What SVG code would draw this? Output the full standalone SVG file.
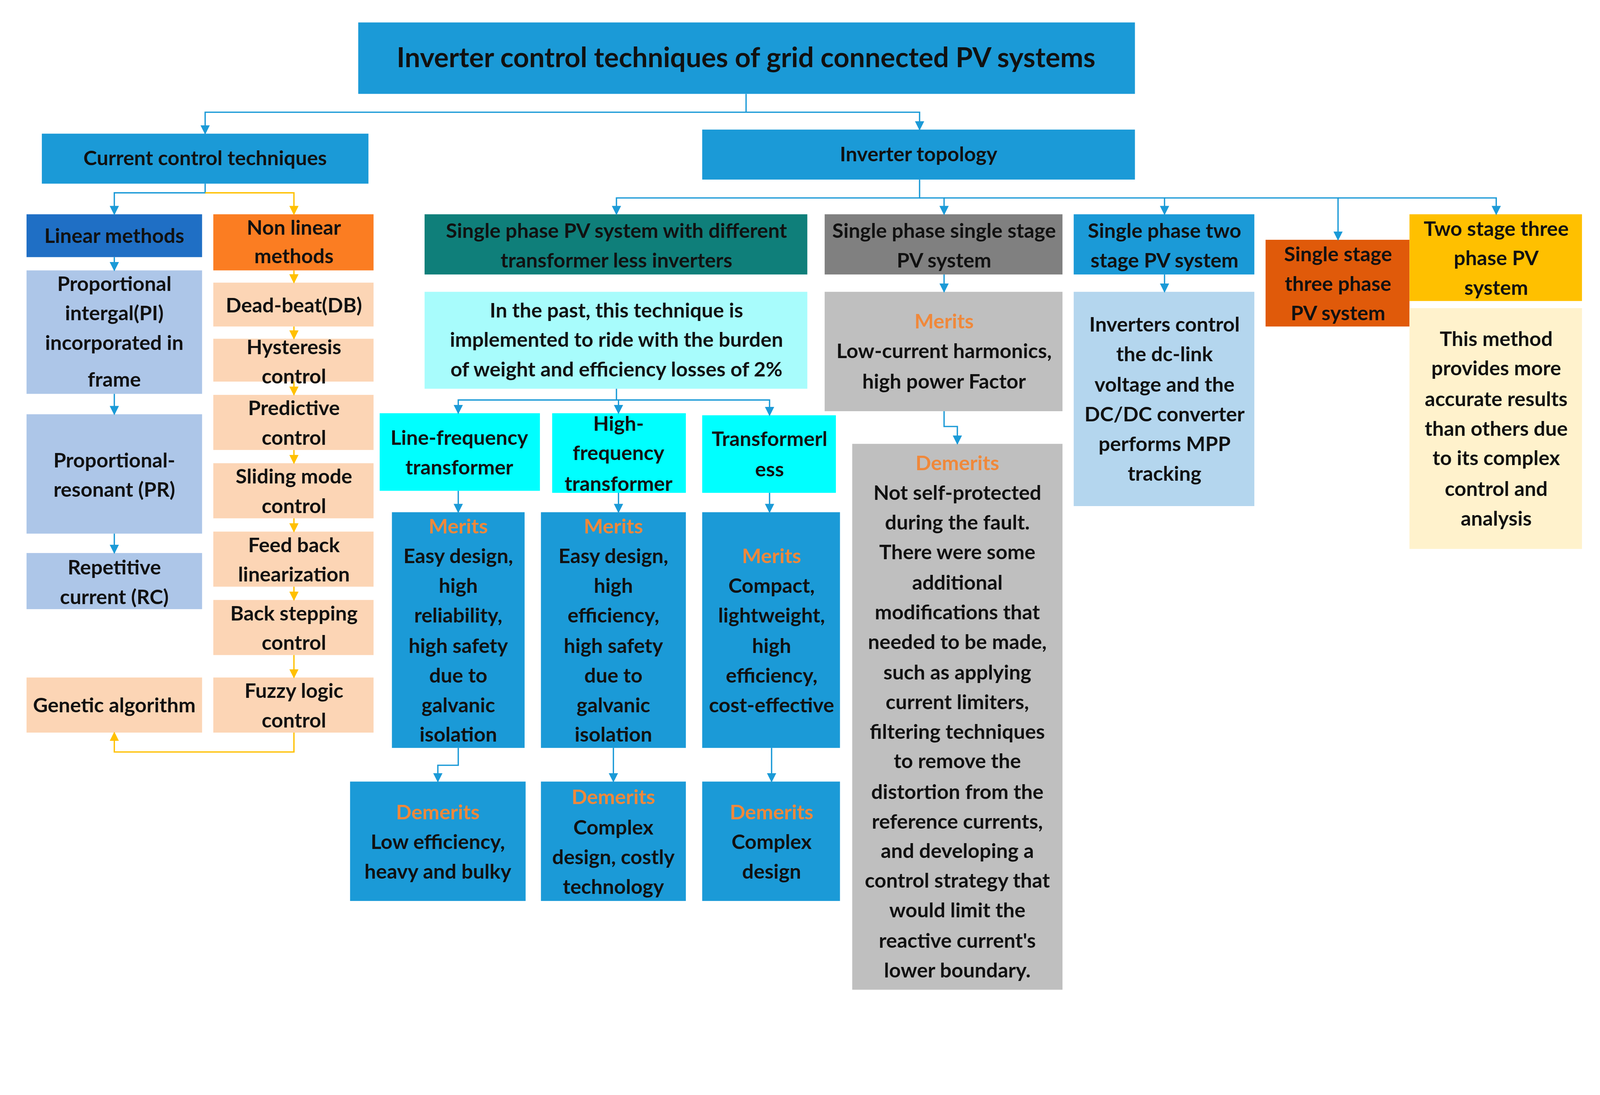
<svg xmlns="http://www.w3.org/2000/svg" width="4448" height="2804" viewBox="0 0 4448 2804">
<style>
text{font-family:Lato,"Liberation Sans",sans-serif;font-weight:bold;font-size:20px;fill:#111;text-anchor:middle}
.b{fill:#1b9ad7}.o{fill:#f0883a}
.c path{fill:none;stroke-width:1.3}
.bl{stroke:#1b9ad7}.yl{stroke:#ffc000}
</style>
<defs>
<marker id="ab" viewBox="0 0 10 10" refX="9" refY="5" markerWidth="7" markerHeight="7" orient="auto"><path d="M0,0L10,5L0,10z" fill="#1b9ad7"/></marker>
<marker id="ay" viewBox="0 0 10 10" refX="9" refY="5" markerWidth="7" markerHeight="7" orient="auto"><path d="M0,0L10,5L0,10z" fill="#ffc000"/></marker>
</defs>
<rect width="4448" height="2804" fill="#fff"/>
<g transform="scale(2.6128)">
<g id="title"><rect x="351" y="22" width="761" height="70" class="b"/><text x="731" y="66" style="font-size:27px">Inverter control techniques of grid connected PV systems</text></g>
<g id="cct"><rect x="41" y="131" width="320" height="49" class="b"/><text x="201" y="162">Current control techniques</text></g>
<g id="topo"><rect x="688" y="127" width="424" height="49" class="b"/><text x="900" y="158">Inverter topology</text></g>
<g id="lin"><rect x="26" y="210" width="172" height="42" fill="#1f6fc5"/><text x="112" y="238">Linear methods</text></g>
<g id="nonlin"><rect x="209" y="210" width="157" height="55" fill="#fb7d22"/><text x="288" y="230">Non linear</text><text x="288" y="258">methods</text></g>
<g id="pi"><rect x="26" y="265" width="172" height="121" fill="#adc6e8"/><text x="112" y="285">Proportional</text><text x="112" y="314">intergal(PI)</text><text x="112" y="343">incorporated in</text><text x="112" y="379">frame</text></g>
<g id="pr"><rect x="26" y="406" width="172" height="117" fill="#adc6e8"/><text x="112" y="458">Proportional-</text><text x="112" y="487">resonant (PR)</text></g>
<g id="rc"><rect x="26" y="542" width="172" height="55" fill="#adc6e8"/><text x="112" y="563">Repetitive</text><text x="112" y="592">current (RC)</text></g>
<g id="ga"><rect x="26" y="664" width="172" height="54" fill="#fcd5b5"/><text x="112" y="698">Genetic algorithm</text></g>
<g id="db"><rect x="209" y="277" width="157" height="43" fill="#fcd5b5"/><text x="288" y="306">Dead-beat(DB)</text></g>
<g id="hy"><rect x="209" y="332" width="157" height="42" fill="#fcd5b5"/><text x="288" y="347">Hysteresis</text><text x="288" y="376">control</text></g>
<g id="pc"><rect x="209" y="387" width="157" height="54" fill="#fcd5b5"/><text x="288" y="407">Predictive</text><text x="288" y="436">control</text></g>
<g id="sm"><rect x="209" y="454" width="157" height="54" fill="#fcd5b5"/><text x="288" y="474">Sliding mode</text><text x="288" y="503">control</text></g>
<g id="fb"><rect x="209" y="521" width="157" height="54" fill="#fcd5b5"/><text x="288" y="541">Feed back</text><text x="288" y="570">linearization</text></g>
<g id="bs"><rect x="209" y="588" width="157" height="54" fill="#fcd5b5"/><text x="288" y="608">Back stepping</text><text x="288" y="637">control</text></g>
<g id="fl"><rect x="209" y="664" width="157" height="54" fill="#fcd5b5"/><text x="288" y="684">Fuzzy logic</text><text x="288" y="713">control</text></g>
<g id="tl"><rect x="416" y="210" width="375" height="59" fill="#0f7f7a"/><text x="604" y="233">Single phase PV system with different</text><text x="604" y="262">transformer less inverters</text></g>
<g id="ss"><rect x="808" y="210" width="233" height="59" fill="#808080"/><text x="925" y="233">Single phase single stage</text><text x="925" y="262">PV system</text></g>
<g id="ts"><rect x="1052" y="210" width="177" height="59" class="b"/><text x="1141" y="233">Single phase two</text><text x="1141" y="262">stage PV system</text></g>
<g id="s3"><rect x="1240" y="235" width="141" height="85" fill="#e05a0a"/><text x="1311" y="256">Single stage</text><text x="1311" y="285">three phase</text><text x="1311" y="314">PV system</text></g>
<g id="t3"><rect x="1381" y="210" width="169" height="85" fill="#ffc000"/><text x="1466" y="231">Two stage three</text><text x="1466" y="260">phase PV</text><text x="1466" y="289">system</text></g>
<g id="past"><rect x="416" y="286" width="375" height="95" fill="#a8fcfc"/><text x="604" y="311">In the past, this technique is</text><text x="604" y="340">implemented  to ride with the burden</text><text x="604" y="369">of weight and efficiency losses of 2%</text></g>
<g id="ssm"><rect x="808" y="286" width="233" height="117" fill="#bfbfbf"/><text x="925" y="322" class="o">Merits</text><text x="925" y="351">Low-current harmonics,</text><text x="925" y="381">high power Factor</text></g>
<g id="ssd"><rect x="835" y="435" width="206" height="535" fill="#bfbfbf"/><text x="938" y="461" class="o">Demerits</text>
<text x="938" y="490">Not self-protected</text><text x="938" y="519">during the fault.</text><text x="938" y="548">There were some</text><text x="938" y="578">additional</text><text x="938" y="607">modifications that</text><text x="938" y="636">needed to be made,</text><text x="938" y="666">such as applying</text><text x="938" y="695">current limiters,</text><text x="938" y="724">filtering techniques</text><text x="938" y="753">to remove the</text><text x="938" y="783">distortion from the</text><text x="938" y="812">reference currents,</text><text x="938" y="841">and developing a</text><text x="938" y="870">control strategy that</text><text x="938" y="899">would limit the</text><text x="938" y="929">reactive current's</text><text x="938" y="958">lower boundary.</text></g>
<g id="tsd"><rect x="1052" y="286" width="177" height="210" fill="#b4d6ee"/><text x="1141" y="325">Inverters control</text><text x="1141" y="354">the dc-link</text><text x="1141" y="384">voltage and the</text><text x="1141" y="413">DC/DC converter</text><text x="1141" y="442">performs MPP</text><text x="1141" y="471">tracking</text></g>
<g id="t3d"><rect x="1381" y="302" width="169" height="236" fill="#fff2cc"/><text x="1466" y="339">This method</text><text x="1466" y="368">provides more</text><text x="1466" y="398">accurate results</text><text x="1466" y="427">than others due</text><text x="1466" y="456">to its complex</text><text x="1466" y="486">control and</text><text x="1466" y="515">analysis</text></g>
<g id="lf"><rect x="372" y="405" width="157" height="76" fill="#00ffff"/><text x="450" y="436">Line-frequency</text><text x="450" y="465">transformer</text></g>
<g id="hf"><rect x="541" y="405" width="131" height="78" fill="#00ffff"/><text x="606" y="422">High-</text><text x="606" y="451">frequency</text><text x="606" y="481">transformer</text></g>
<g id="tfl"><rect x="688" y="407" width="131" height="76" fill="#00ffff"/><text x="754" y="437">Transformerl</text><text x="754" y="467">ess</text></g>
<g id="lfm"><rect x="384" y="502" width="130" height="231" class="b"/><text x="449" y="523" class="o">Merits</text><text x="449" y="552">Easy design,</text><text x="449" y="581">high</text><text x="449" y="610">reliability,</text><text x="449" y="640">high safety</text><text x="449" y="669">due to</text><text x="449" y="698">galvanic</text><text x="449" y="727">isolation</text></g>
<g id="hfm"><rect x="530" y="502" width="142" height="231" class="b"/><text x="601" y="523" class="o">Merits</text><text x="601" y="552">Easy design,</text><text x="601" y="581">high</text><text x="601" y="610">efficiency,</text><text x="601" y="640">high safety</text><text x="601" y="669">due to</text><text x="601" y="698">galvanic</text><text x="601" y="727">isolation</text></g>
<g id="tfm"><rect x="688" y="502" width="135" height="231" class="b"/><text x="756" y="552" class="o">Merits</text><text x="756" y="581">Compact,</text><text x="756" y="610">lightweight,</text><text x="756" y="640">high</text><text x="756" y="669">efficiency,</text><text x="756" y="698">cost-effective</text></g>
<g id="lfd"><rect x="343" y="766" width="172" height="117" class="b"/><text x="429" y="803" class="o">Demerits</text><text x="429" y="832">Low efficiency,</text><text x="429" y="861">heavy and bulky</text></g>
<g id="hfd"><rect x="530" y="766" width="142" height="117" class="b"/><text x="601" y="788" class="o">Demerits</text><text x="601" y="818">Complex</text><text x="601" y="847">design, costly</text><text x="601" y="876">technology</text></g>
<g id="tfd"><rect x="688" y="766" width="135" height="117" class="b"/><text x="756" y="803" class="o">Demerits</text><text x="756" y="832">Complex</text><text x="756" y="861">design</text></g>
<g id="connectors" class="c">
<path class="bl" d="M731,92V110H201V131" marker-end="url(#ab)"/>
<path class="bl" d="M731,110H901V127" marker-end="url(#ab)"/>
<path class="bl" d="M201,180V189H112V210" marker-end="url(#ab)"/>
<path class="yl" d="M201,189H288V210" marker-end="url(#ay)"/>
<path class="bl" d="M112,252V265" marker-end="url(#ab)"/>
<path class="bl" d="M112,386V406" marker-end="url(#ab)"/>
<path class="bl" d="M112,523V542" marker-end="url(#ab)"/>
<path class="yl" d="M288,265V277" marker-end="url(#ay)"/>
<path class="yl" d="M288,320V332" marker-end="url(#ay)"/>
<path class="yl" d="M288,374V387" marker-end="url(#ay)"/>
<path class="yl" d="M288,441V454" marker-end="url(#ay)"/>
<path class="yl" d="M288,508V521" marker-end="url(#ay)"/>
<path class="yl" d="M288,575V588" marker-end="url(#ay)"/>
<path class="yl" d="M288,642V664" marker-end="url(#ay)"/>
<path class="yl" d="M288,718V737H112V718" marker-end="url(#ay)"/>
<path class="bl" d="M901,176V194H604V210" marker-end="url(#ab)"/>
<path class="bl" d="M901,194H925V210" marker-end="url(#ab)"/>
<path class="bl" d="M925,194H1141V210" marker-end="url(#ab)"/>
<path class="bl" d="M1141,194H1311V235" marker-end="url(#ab)"/>
<path class="bl" d="M1311,194H1466V210" marker-end="url(#ab)"/>
<path class="bl" d="M925,269V286" marker-end="url(#ab)"/>
<path class="bl" d="M1141,269V286" marker-end="url(#ab)"/>
<path class="bl" d="M925,403V418H938V435" marker-end="url(#ab)"/>
<path class="bl" d="M604,381V392H449V405" marker-end="url(#ab)"/>
<path class="bl" d="M604,392H606V405" marker-end="url(#ab)"/>
<path class="bl" d="M606,392H754V407" marker-end="url(#ab)"/>
<path class="bl" d="M449,481V502" marker-end="url(#ab)"/>
<path class="bl" d="M606,483V502" marker-end="url(#ab)"/>
<path class="bl" d="M754,483V502" marker-end="url(#ab)"/>
<path class="bl" d="M449,733V750H429V766" marker-end="url(#ab)"/>
<path class="bl" d="M601,733V766" marker-end="url(#ab)"/>
<path class="bl" d="M756,733V766" marker-end="url(#ab)"/>
</g>
</g>
</svg>
